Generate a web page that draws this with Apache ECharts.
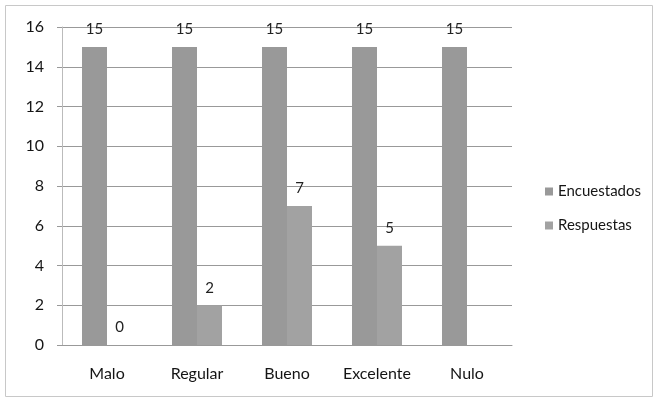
<!DOCTYPE html>
<html>
<head>
<meta charset="utf-8">
<script src="https://cdn.jsdelivr.net/npm/echarts@6/dist/echarts.min.js"></script>
<style>
html, body { margin: 0; padding: 0; background: #fff; }
#mychart { width: 657px; height: 402px; }
</style>
</head>
<body>
<div id="mychart"></div>
<script>
// datos
var categorias = ['Malo', 'Regular', 'Bueno', 'Excelente', 'Nulo'];
var encuestados = [15, 15, 15, 15, 15];
var respuestas = [0, 2, 7, 5, null];
var yTicks = [0, 2, 4, 6, 8, 10, 12, 14, 16];

var myChart = echarts.init(document.getElementById('mychart'));
var fuente = 'Lato, "Open Sans", sans-serif';

myChart.setOption({
    animation: false,
    textStyle: { fontFamily: fuente },
    graphic: [{
        type: 'rect',
        shape: { x: 5.5, y: 5.5, width: 647, height: 391 },
        style: { fill: 'none', stroke: '#c8c8c8', lineWidth: 1 }
    }],
    legend: {
        orient: 'vertical',
        left: 540,
        top: 179,
        itemWidth: 8,
        itemHeight: 8,
        itemGap: 19,
        icon: 'rect',
        textStyle: { fontSize: 15, color: '#151515', fontFamily: fuente },
        data: ['Encuestados', 'Respuestas']
    },
    grid: {
        left: 62,
        right: 145,
        top: 27,
        bottom: 57
    },
    xAxis: {
        type: 'category',
        data: categorias,
        axisLine: { lineStyle: { color: '#999' } },
        axisTick: { length: 5, lineStyle: { color: '#999' } },
        axisLabel: { fontSize: 16, color: '#151515', margin: 21 }
    },
    yAxis: {
        type: 'value',
        min: yTicks[0],
        max: yTicks[yTicks.length - 1],
        interval: 2,
        axisLine: { show: true, lineStyle: { color: '#bbb' } },
        axisTick: { show: true, length: 5, lineStyle: { color: '#999' } },
        axisLabel: { fontSize: 16, color: '#151515', margin: 18 },
        splitLine: { lineStyle: { color: '#999', width: 1.2 } }
    },
    series: [
        {
            name: 'Encuestados',
            type: 'bar',
            data: encuestados,
            barWidth: 25,
            barGap: '0%',
            itemStyle: { color: '#999999' },
            label: { show: true, position: 'top', distance: 10, fontSize: 15, color: '#222' }
        },
        {
            name: 'Respuestas',
            type: 'bar',
            data: respuestas,
            barWidth: 25,
            itemStyle: { color: '#a2a2a2' },
            label: { show: true, position: 'top', distance: 10, fontSize: 15, color: '#222' }
        }
    ]
});
</script>
</body>
</html>
